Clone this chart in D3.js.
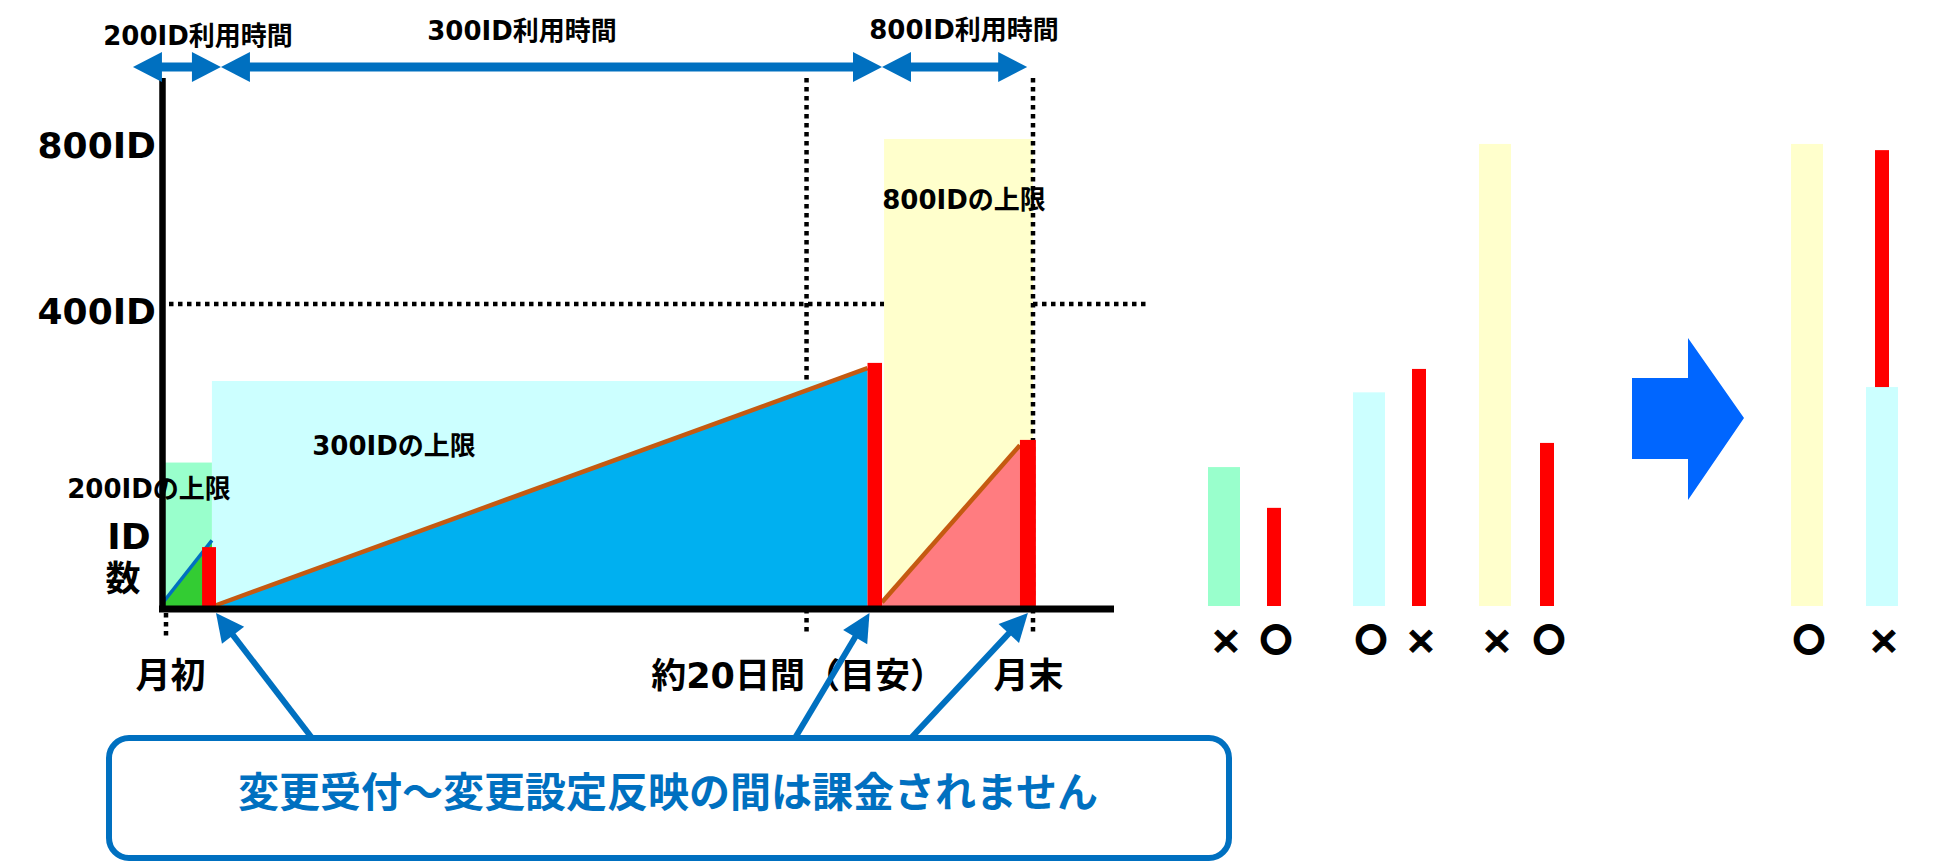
<!DOCTYPE html>
<html><head><meta charset="utf-8">
<script src="https://cdn.jsdelivr.net/npm/d3@7"></script>
<style>
body{margin:0;background:#fff;}
svg{display:block;}
text{font-family:"DejaVu Sans","Noto Sans CJK JP",sans-serif;font-weight:bold;fill:#000;}
</style>
</head><body>
<svg id="c" width="1935" height="864"></svg>
<script>
// ---------------- data ----------------
const yTickValues = [400, 800];
const yTickLabels = ["400ID", "800ID"];
const planNames = ["200ID", "300ID", "800ID"];
const planCaps = [190, 298, 800];
const planStart = [0, 1.72, 24.87];
const planEnd = [1.72, 24.2, 30];
const usageStartDay = [0, 1.86, 24.8];
const usageStartVal = [3, 1, 5];
const usageEndDay = [1.72, 24.3, 29.55];
const usageEndVal = [87, 315, 213];
const changeDayStart = [1.38, 24.3, 29.55];
const changeDayEnd = [1.86, 24.8, 30.1];
const changeUsage = [78, 322, 220];
const periodLabels = ["200ID利用時間", "300ID利用時間", "800ID利用時間"];
const periodStart = [-1.0, 2.03, 24.8];
const periodEnd = [2.03, 24.8, 29.8];
const capLabels = ["200IDの上限", "300IDの上限", "800IDの上限"];
const xTickDays = [0, 22.2, 30];
const xTickLabels = ["月初", "約20日間（目安）", "月末"];
const yAxisTitle = ["ID", "数"];
const noteText = "変更受付～変更設定反映の間は課金されません";
// comparison panel
const cmpSlot = [0, 1, 2.9, 3.9, 5.42, 6.46, 11.66, 13.16];
const cmpCapPlan = [0, -1, 1, -1, 2, -1, 2, 1];
const cmpCapValue = [184, 0, 283, 0, 788, 0, 788, 290];
const cmpUsageLow = [0, 0, 0, 0, 0, 0, 0, 290];
const cmpUsageHigh = [0, 130, 0, 314, 0, 216, 0, 773];
const cmpMarks = ["×", "〇", "〇", "×", "×", "〇", "〇", "×"];

// ---------------- styles ----------------
const capColors = ["#99FFCC", "#CCFFFF", "#FFFFCC"];
const usageFill = ["#33CC33", "#00B0F0", "#FF7C80"];
const usageLine = ["#0070C0", "#C55A11", "#C55A11"];
const RED = "#FF0000", BLUE = "#0070C0";

const svg = d3.select("#c");
const x = d3.scaleLinear().domain([0, 30]).range([162, 1033]);
const y = d3.scaleLinear().domain([0, 400, 800]).range([606, 304, 139]);
const xc = d3.scaleLinear().domain([0, 1]).range([1224, 1274]);

const dotted = (g, x1, y1, x2, y2) => g.append("line")
  .attr("x1", x1).attr("y1", y1).attr("x2", x2).attr("y2", y2)
  .attr("stroke", "#000").attr("stroke-width", 4.5).attr("stroke-dasharray", "4.5 4.5");

function head(g, tx, ty, dx, dy, len, half, color) {
  const L = Math.hypot(dx, dy), ux = dx / L, uy = dy / L;
  const bx = tx - ux * len, by = ty - uy * len;
  g.append("polygon").attr("fill", color)
    .attr("points", [[tx, ty], [bx - uy * half, by + ux * half], [bx + uy * half, by - ux * half]].map(p => p.join(",")).join(" "));
}

const g = svg.append("g");

// grid dotted lines
dotted(g, 169, y(400), 1150, y(400));
// 800 cap area (yellow)
g.append("rect").attr("x", x(planStart[2])).attr("y", y(planCaps[2]))
  .attr("width", x(planEnd[2]) - x(planStart[2])).attr("height", y(0) - y(planCaps[2])).attr("fill", capColors[2]);
dotted(g, x(xTickDays[1]), 78, x(xTickDays[1]), 632);
dotted(g, x(xTickDays[2]), 78, x(xTickDays[2]), 632);
// 200 / 300 caps
[0, 1].forEach(i => {
  g.append("rect").attr("x", x(planStart[i])).attr("y", y(planCaps[i]))
    .attr("width", x(planEnd[i]) - x(planStart[i])).attr("height", y(0) - y(planCaps[i])).attr("fill", capColors[i]);
});
// usage areas and lines
[0, 1, 2].forEach(i => {
  const pts = [[usageStartDay[i], usageStartVal[i]], [usageEndDay[i], usageEndVal[i]]];
  const area = d3.area().x(d => x(d[0])).y0(y(0)).y1(d => y(d[1]));
  g.append("path").attr("d", area(pts)).attr("fill", usageFill[i]);
  const line = d3.line().x(d => x(d[0])).y(d => y(d[1]));
  g.append("path").attr("d", line(pts)).attr("fill", "none").attr("stroke", usageLine[i]).attr("stroke-width", i === 0 ? 3.5 : 4.5);
});
// change-time usage (red bars)
[0, 1, 2].forEach(i => {
  g.append("rect").attr("x", x(changeDayStart[i])).attr("y", y(changeUsage[i]))
    .attr("width", x(changeDayEnd[i]) - x(changeDayStart[i])).attr("height", y(0) - y(changeUsage[i])).attr("fill", RED);
});
// axes lines
g.append("line").attr("x1", x(0) + 0.5).attr("x2", x(0) + 0.5).attr("y1", 78).attr("y2", 612).attr("stroke", "#000").attr("stroke-width", 6.5);
g.append("line").attr("x1", x(0) - 3).attr("x2", 1114).attr("y1", 609).attr("y2", 609).attr("stroke", "#000").attr("stroke-width", 7);
dotted(g, x(0) + 4, 613, x(0) + 4, 638);

// y tick labels via d3 axis
const ya = svg.append("g").attr("transform", "translate(156,0)")
  .call(d3.axisLeft(y).tickValues(yTickValues).tickSize(0).tickPadding(0)
    .tickFormat(d => yTickLabels[yTickValues.indexOf(d)]));
ya.select(".domain").remove();
ya.selectAll("text").attr("font-size", 36).attr("font-family", null).attr("dy", "0.36em")
  .attr("transform", d => `translate(0,${d === 800 ? 6 : 7})`);

// x tick labels via d3 axis
const xOff = [8, -9, -5];
const xa = svg.append("g").attr("transform", "translate(0,676)")
  .call(d3.axisBottom(x).tickValues(xTickDays).tickSize(0).tickPadding(0)
    .tickFormat((d, i) => xTickLabels[i]));
xa.select(".domain").remove();
xa.selectAll("text").attr("font-size", 35).attr("font-family", null).attr("dy", null)
  .attr("dominant-baseline", "central").attr("x", (d, i) => xOff[i]);

// y axis title
svg.append("text").attr("x", 129).attr("y", 536).attr("text-anchor", "middle").attr("dominant-baseline", "central")
  .attr("font-size", 36).text(yAxisTitle[0]);
svg.append("text").attr("x", 123).attr("y", 579).attr("text-anchor", "middle").attr("dominant-baseline", "central")
  .attr("font-size", 35).text(yAxisTitle[1]);

// cap labels
const capLabelPos = [[149, 489], [394, 446], [964, 200]];
capLabels.forEach((t, i) => {
  svg.append("text").attr("x", capLabelPos[i][0]).attr("y", capLabelPos[i][1])
    .attr("text-anchor", "middle").attr("dominant-baseline", "central").attr("font-size", 26).text(t);
});

// period arrows on top
const ay = 67;
periodLabels.forEach((t, i) => {
  const a = x(periodStart[i]), b = x(periodEnd[i]);
  svg.append("line").attr("x1", a + 20).attr("x2", b - 20).attr("y1", ay).attr("y2", ay)
    .attr("stroke", BLUE).attr("stroke-width", 9);
  head(svg, a, ay, -1, 0, 29, 15, BLUE);
  head(svg, b, ay, 1, 0, 29, 15, BLUE);
});
const periodLabelPos = [[198, 36], [522, 31], [964, 30]];
periodLabels.forEach((t, i) => {
  svg.append("text").attr("x", periodLabelPos[i][0]).attr("y", periodLabelPos[i][1])
    .attr("text-anchor", "middle").attr("dominant-baseline", "central").attr("font-size", 26).text(t);
});

// callout arrows
const tips = [
  [x(changeDayEnd[0]), 613],
  [x(changeDayStart[1]) + 2, 613],
  [x((changeDayStart[2] + changeDayEnd[2]) / 2), 613]
];
const bases = [[312, 738], [795, 738], [911, 738]];
tips.forEach((t, i) => {
  const b = bases[i];
  const dx = t[0] - b[0], dy = t[1] - b[1], L = Math.hypot(dx, dy);
  svg.append("line").attr("x1", b[0]).attr("y1", b[1])
    .attr("x2", t[0] - dx / L * 20).attr("y2", t[1] - dy / L * 20)
    .attr("stroke", BLUE).attr("stroke-width", 6);
  head(svg, t[0], t[1], dx, dy, 28, 14, BLUE);
});
// note box
svg.append("rect").attr("x", 109).attr("y", 738).attr("width", 1120).attr("height", 120)
  .attr("rx", 20).attr("fill", "#fff").attr("stroke", BLUE).attr("stroke-width", 6);
svg.append("text").attr("x", 668).attr("y", 793).attr("text-anchor", "middle").attr("dominant-baseline", "central")
  .attr("font-size", 41).style("fill", BLUE).text(noteText);

// ---------------- comparison panel ----------------
const cp = svg.append("g");
cmpSlot.forEach((s, i) => {
  const cx = xc(s);
  if (cmpCapPlan[i] >= 0) {
    cp.append("rect").attr("x", cx - 16).attr("y", y(cmpCapValue[i])).attr("width", 32)
      .attr("height", y(0) - y(cmpCapValue[i])).attr("fill", capColors[cmpCapPlan[i]]);
  }
  if (cmpUsageHigh[i] > 0) {
    cp.append("rect").attr("x", cx - 7).attr("y", y(cmpUsageHigh[i])).attr("width", 14)
      .attr("height", y(cmpUsageLow[i]) - y(cmpUsageHigh[i])).attr("fill", RED);
  }
  const isO = cmpMarks[i] === "〇";
  cp.append("text").attr("x", cx + 2).attr("y", 640).attr("text-anchor", "middle").attr("dominant-baseline", "central")
    .attr("font-family", "Noto Sans CJK JP")
    .attr("font-size", isO ? 31 : 38)
    .attr("stroke", "#000").attr("stroke-width", isO ? 2.2 : 1)
    .text(cmpMarks[i]);
});
// big arrow
const a0 = xc(8.16), a1 = xc(9.28), a2 = xc(10.4), acy = 418;
cp.append("polygon").attr("fill", "#0066FF")
  .attr("points", [[a0, acy - 40], [a1, acy - 40], [a1, acy - 80], [a2, acy], [a1, acy + 82], [a1, acy + 41], [a0, acy + 41]].map(p => p.join(",")).join(" "));
</script>
</body></html>
